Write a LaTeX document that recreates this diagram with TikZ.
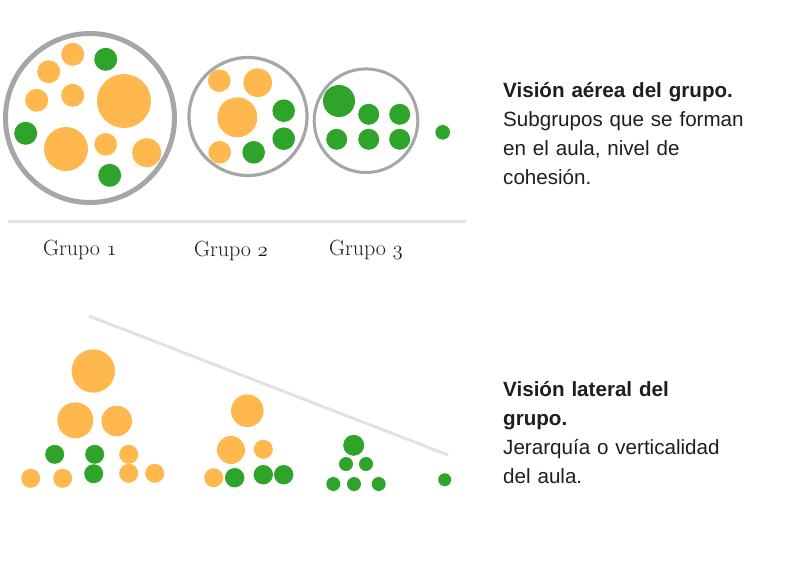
\documentclass[tikz,border=0pt]{standalone}
\usepackage{fontspec}
\newfontfamily\textsans{Liberation Sans}
\usetikzlibrary{positioning}
\definecolor{naranja}{HTML}{FFB84D}
\definecolor{verde}{HTML}{2EA52A}
\definecolor{grisaro}{HTML}{A6A6A6}
\definecolor{grisraya}{HTML}{E2E2E2}
\definecolor{tinta}{HTML}{1E1E1E}

\begin{document}
\begin{tikzpicture}[x=1pt, y=-1pt,
    nar/.style={fill=naranja},
    ver/.style={fill=verde},
    anillo/.style={draw=grisaro},
    raya/.style={draw=grisraya, line width=3pt},
    rotulo/.style={font=\fontsize{22}{26}\selectfont, text=tinta, inner sep=0pt, anchor=base},
    infotexto/.style={font=\textsans\fontsize{20.6}{29}\selectfont, text=tinta, align=left,
        text width=270pt, inner sep=0pt, anchor=base west}]
    \useasboundingbox (0,0) rectangle (786,563);

    % vista aerea
    \draw[anillo, line width=5pt] (90,118) circle (84.5);
    \draw[anillo, line width=3.2pt] (248,116.5) circle (59);
    \draw[anillo, line width=3pt] (366,120.7) circle (51.8);
    \foreach \x/\y/\r in {72.7/54.3/11.5, 48.7/71.7/11.5, 36.7/100.3/11.5,
        72.7/95.3/11.5, 124/101/27, 66/149/22, 105.7/144.3/11.3, 146.7/152.7/14.5,
        219.3/80.7/11.3, 257.7/82.7/14.3, 237.3/117.3/20, 219.7/152.3/11.3}
        \fill[nar] (\x,\y) circle (\r);
    \foreach \x/\y/\r in {105.7/59.3/11.5, 25.7/133.3/11.5, 109.7/175.3/11.5,
        283.7/110.7/11.3, 283.7/138.7/11.3, 253.7/152.3/11.3,
        339/101/16, 368.7/114.3/10.5, 399.7/114.3/10.5,
        336.7/139.3/10.5, 368.7/139.3/10.5, 399.7/139.3/10.5, 442.7/132.3/7.3}
        \fill[ver] (\x,\y) circle (\r);
    \draw[raya] (8,221) -- (466,221);
    \node[rotulo] (grupo1) at (80,255) {Grupo $\mathnormal{1}$};
    \node[rotulo] (grupo2) at (231,256) {Grupo $\mathnormal{2}$};
    \node[rotulo] (grupo3) at (366,255) {Grupo $\mathnormal{3}$};

    % vista lateral
    \draw[raya] (89,316) -- (448,455);
    \foreach \x/\y/\r in {93.3/371/21.7, 75.3/420.3/18, 116.7/421/15.3,
        128.7/454.3/9.5, 30.7/478.3/9.5, 62.7/478.3/9.5, 128.7/473.3/9.5, 154.7/473.3/9.5,
        247.3/410.7/16.3, 231/450/14, 263.3/449.3/9.5, 213.7/477.7/9.5}
        \fill[nar] (\x,\y) circle (\r);
    \foreach \x/\y/\r in {54.7/454.3/9.5, 94.7/454.3/9.5, 93.7/473.7/9.5,
        234.7/477.7/9.7, 263.3/474.7/9.7, 283.7/474.7/9.7,
        353.7/445.3/10.5, 346/464/7, 366/464/7, 333.3/484/7, 354/484/7, 378.7/484/7,
        444.7/479.7/6.5}
        \fill[ver] (\x,\y) circle (\r);

    \node[infotexto] (aerea) at (503,97) {\textbf{Visión aérea del grupo.}\\
        Subgrupos que se forman\\ en el aula, nivel de\\ cohesión.};
    \node[infotexto] (lateral) at (503,396) {\textbf{Visión lateral del}\\
        \textbf{grupo.}\\ Jerarquía o verticalidad\\ del aula.};
\end{tikzpicture}
\end{document}
